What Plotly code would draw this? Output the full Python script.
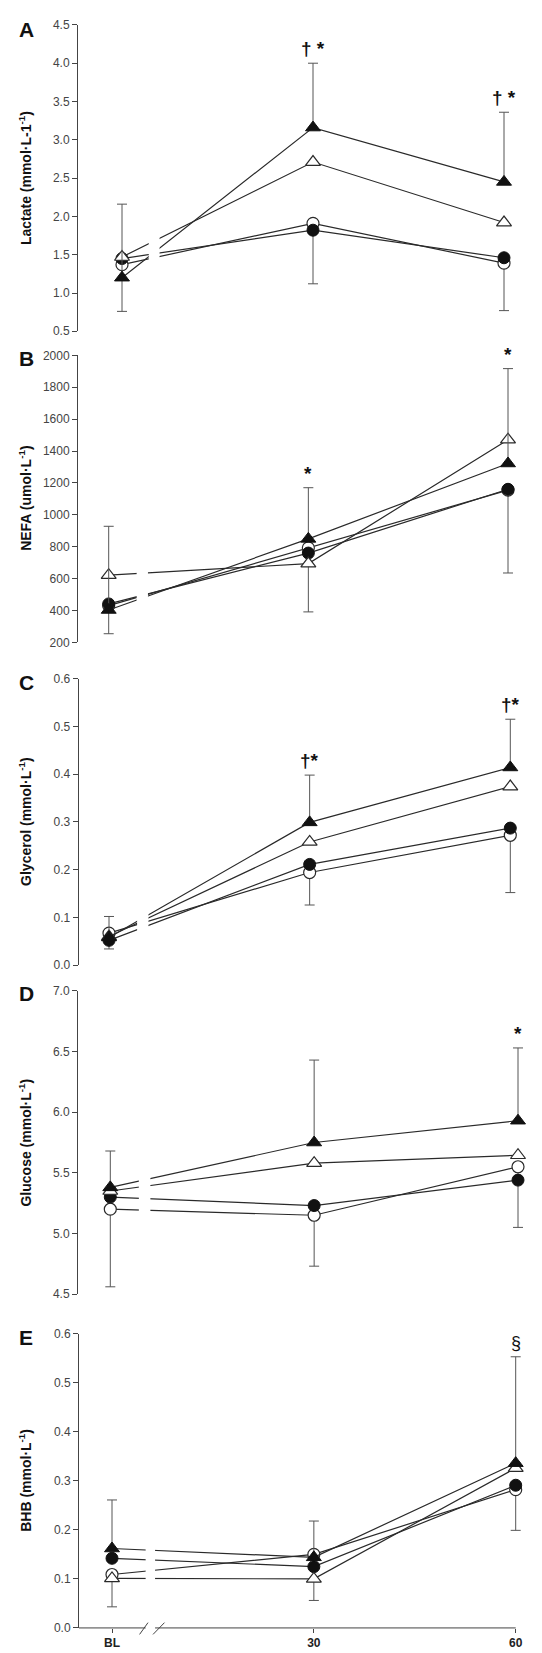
import plotly.graph_objects as go

# ---------------- data ----------------
time_vals = [0, 30, 60]
time_labels = ["BL", "30", "60"]

# Panel A: Lactate (mmol/L)
lac_open_circle = [1.37, 1.91, 1.39]
lac_filled_circle = [1.45, 1.82, 1.46]
lac_open_triangle = [1.47, 2.71, 1.92]
lac_filled_triangle = [1.20, 3.16, 2.45]
lac_ft_sd_up = [0.96, 0.84, 0.91]
lac_oc_sd_down = [0.61, 0.79, 0.62]
lac_sig = ["", "† *", "† *"]

# Panel B: NEFA (umol/L)
nefa_open_circle = [430, 793, 1155]
nefa_filled_circle = [441, 760, 1160]
nefa_open_triangle = [621, 694, 1471]
nefa_filled_triangle = [403, 849, 1322]
nefa_ft_sd_up = [525, 321, 595]
nefa_oc_sd_down = [176, 402, 520]
nefa_sig = ["", "*", "*"]

# Panel C: Glycerol (mmol/L)
gly_open_circle = [0.067, 0.194, 0.272]
gly_filled_circle = [0.052, 0.211, 0.287]
gly_open_triangle = [0.060, 0.258, 0.374]
gly_filled_triangle = [0.058, 0.299, 0.414]
gly_ft_sd_up = [0.044, 0.099, 0.101]
gly_oc_sd_down = [0.033, 0.068, 0.120]
gly_sig = ["", "†*", "†*"]

# Panel D: Glucose (mmol/L)
glu_open_circle = [5.20, 5.15, 5.55]
glu_filled_circle = [5.30, 5.23, 5.44]
glu_open_triangle = [5.35, 5.58, 5.645]
glu_filled_triangle = [5.38, 5.75, 5.93]
glu_ft_sd_up = [0.30, 0.68, 0.60]
glu_oc_sd_down = [0.64, 0.42, 0.50]
glu_sig = ["", "", "*"]

# Panel E: BHB (mmol/L)
bhb_open_circle = [0.109, 0.150, 0.282]
bhb_filled_circle = [0.142, 0.125, 0.291]
bhb_open_triangle = [0.101, 0.100, 0.326]
bhb_filled_triangle = [0.162, 0.144, 0.336]
bhb_ft_sd_up = [0.099, 0.074, 0.217]
bhb_oc_sd_down = [0.066, 0.094, 0.083]
bhb_sig = ["", "", "§"]

panel_letters = ["A", "B", "C", "D", "E"]
panel_titles = [
    "Lactate (mmol·L-1<sup>-1</sup>)",
    "NEFA (umol·L<sup>-1</sup>)",
    "Glycerol (mmol·L<sup>-1</sup>)",
    "Glucose (mmol·L<sup>-1</sup>)",
    "BHB (mmol·L<sup>-1</sup>)",
]
y_ranges = [(0.5, 4.5), (200, 2000), (0.0, 0.6), (4.5, 7.0), (0.0, 0.6)]
y_dticks = [0.5, 200, 0.1, 0.5, 0.1]
y_formats = [".1f", "d", ".1f", ".1f", ".1f"]

panel_data = [
    (lac_open_circle, lac_filled_circle, lac_open_triangle, lac_filled_triangle, lac_ft_sd_up, lac_oc_sd_down, lac_sig),
    (nefa_open_circle, nefa_filled_circle, nefa_open_triangle, nefa_filled_triangle, nefa_ft_sd_up, nefa_oc_sd_down, nefa_sig),
    (gly_open_circle, gly_filled_circle, gly_open_triangle, gly_filled_triangle, gly_ft_sd_up, gly_oc_sd_down, gly_sig),
    (glu_open_circle, glu_filled_circle, glu_open_triangle, glu_filled_triangle, glu_ft_sd_up, glu_oc_sd_down, glu_sig),
    (bhb_open_circle, bhb_filled_circle, bhb_open_triangle, bhb_filled_triangle, bhb_ft_sd_up, bhb_oc_sd_down, bhb_sig),
]

# ---------------- layout geometry (pixels) ----------------
W, H = 542, 1653
# (axis_x, BL_x, 60_x, top_y, bottom_y, letter_y)
geom = [
    (70, 114, 496, 10, 319, 15),
    (70, 100.7, 500, 343.3, 632.7, 346),
    (70.7, 101, 502.3, 669.3, 958.3, 673),
    (70, 102.3, 510, 984.3, 1290, 987),
    (71, 104, 507.7, 1330, 1626.7, 1334),
]
PAD = 12  # extra px to the right so markers / caps at 60 are not clipped

LINE = "#2a2a2a"
FILL = "#111111"
TICKC = "#444444"
ERRC = "#555555"
FONT = "Liberation Sans, Arial, sans-serif"

fig = go.Figure()
layout = dict(
    width=W, height=H, margin=dict(l=0, r=0, t=0, b=0),
    paper_bgcolor="white", plot_bgcolor="white", showlegend=False,
    font=dict(family=FONT, color=TICKC),
)
shapes = []
annotations = []

for i, (oc, fc, ot, ft, ft_up, oc_dn, sig) in enumerate(panel_data):
    n = "" if i == 0 else str(i + 1)
    xref, yref = "x" + n, "y" + n
    ax_x, bl_x, x60, top, bot, let_y = geom[i]
    scale = (x60 - bl_x) / 60.0
    xmin = -(bl_x - ax_x) / scale
    xmax = 60 + PAD / scale
    xa = dict(
        domain=[ax_x / W, (x60 + PAD) / W], range=[xmin, xmax], anchor=yref,
        showgrid=False, zeroline=False, showline=False,
    )
    if i == 4:
        xa.update(ticks="outside", ticklen=4, tickcolor=TICKC, tickwidth=1,
                  tickvals=time_vals, ticktext=["<b>%s</b>" % t for t in time_labels],
                  showticklabels=True, tickfont=dict(family=FONT, size=12, color="#222222"))
    else:
        xa.update(ticks="", showticklabels=False)
    layout["xaxis" + n] = xa
    y0, y1 = y_ranges[i]
    layout["yaxis" + n] = dict(
        domain=[1 - bot / H, 1 - top / H], range=[y0, y1], anchor=xref,
        showgrid=False, zeroline=False, showline=True, linecolor=TICKC, linewidth=1,
        ticks="outside", ticklen=5, tickcolor=TICKC,
        tick0=y0, dtick=y_dticks[i], tickformat=y_formats[i],
        tickfont=dict(family=FONT, size=12, color=TICKC),
    )

    # series: open circle, filled circle, open triangle, filled triangle
    fig.add_trace(go.Scatter(
        x=time_vals, y=oc, xaxis=xref, yaxis=yref, mode="lines+markers", cliponaxis=False,
        line=dict(color=LINE, width=1.2),
        marker=dict(symbol="circle", size=12, color="white", line=dict(color=LINE, width=1.2)),
        error_y=dict(type="data", symmetric=False, array=[0, 0, 0], arrayminus=oc_dn,
                     color=ERRC, thickness=1, width=5),
    ))
    fig.add_trace(go.Scatter(
        x=time_vals, y=fc, xaxis=xref, yaxis=yref, mode="lines+markers", cliponaxis=False,
        line=dict(color=LINE, width=1.2),
        marker=dict(symbol="circle", size=12, color=FILL, line=dict(color=FILL, width=1)),
    ))
    fig.add_trace(go.Scatter(
        x=time_vals, y=ot, xaxis=xref, yaxis=yref, mode="lines+markers", cliponaxis=False,
        line=dict(color=LINE, width=1.2),
        marker=dict(symbol="triangle-up", size=13, color="white", line=dict(color=LINE, width=1.2)),
    ))
    fig.add_trace(go.Scatter(
        x=time_vals, y=ft, xaxis=xref, yaxis=yref, mode="lines+markers", cliponaxis=False,
        line=dict(color=LINE, width=1.2),
        marker=dict(symbol="triangle-up", size=13, color=FILL, line=dict(color=FILL, width=1)),
        error_y=dict(type="data", symmetric=False, array=ft_up, arrayminus=[0, 0, 0],
                     color=ERRC, thickness=1, width=5),
    ))

    # bottom axis line for panel E (ends at the 60 tick)
    if i == 4:
        shapes.append(dict(type="line", xref="paper", yref=yref + " domain",
                           x0=ax_x / W, x1=x60 / W, y0=0, y1=0,
                           line=dict(color=TICKC, width=1), layer="above"))
    # broken line gap between BL and 30
    if i == 4:
        gx0, gx1, gy0 = 5.0, 6.4, -0.02
    else:
        gx0, gx1, gy0 = 4.2, 5.9, 0.0
    shapes.append(dict(type="rect", xref=xref, yref=yref + " domain", x0=gx0, x1=gx1,
                       y0=gy0, y1=1.0, fillcolor="white", line=dict(width=0), layer="above"))
    if i == 4:
        for sx0, sx1 in [(4.1, 5.35), (6.1, 7.8)]:
            shapes.append(dict(type="line", xref=xref, yref=yref + " domain", x0=sx0, x1=sx1,
                               y0=-0.022, y1=0.018, line=dict(color=TICKC, width=1), layer="above"))

    # significance marks
    for t, s, top_v, up in zip(time_vals, sig, ft, ft_up):
        if s:
            bold = s != "§"
            annotations.append(dict(
                x=t, y=top_v + up, xref=xref, yref=yref,
                text=("<b>%s</b>" % s) if bold else s, showarrow=False,
                yanchor="bottom", xanchor="center", yshift=2,
                font=dict(family=FONT, size=19 if bold else 18, color="#111111"),
            ))

    # panel letter
    annotations.append(dict(
        x=18 / W, y=1 - let_y / H, xref="paper", yref="paper",
        text="<b>%s</b>" % panel_letters[i], showarrow=False, xanchor="center", yanchor="middle",
        font=dict(family=FONT, size=21, color="#111111"),
    ))
    # y title
    annotations.append(dict(
        x=17 / W, y=0.5, xref="paper", yref=yref + " domain", text="<b>%s</b>" % panel_titles[i],
        textangle=-90, showarrow=False, xanchor="center", yanchor="middle",
        font=dict(family=FONT, size=14, color="#111111"),
    ))

layout["shapes"] = shapes
layout["annotations"] = annotations
fig.update_layout(**layout)
fig.write_html("out.html")
